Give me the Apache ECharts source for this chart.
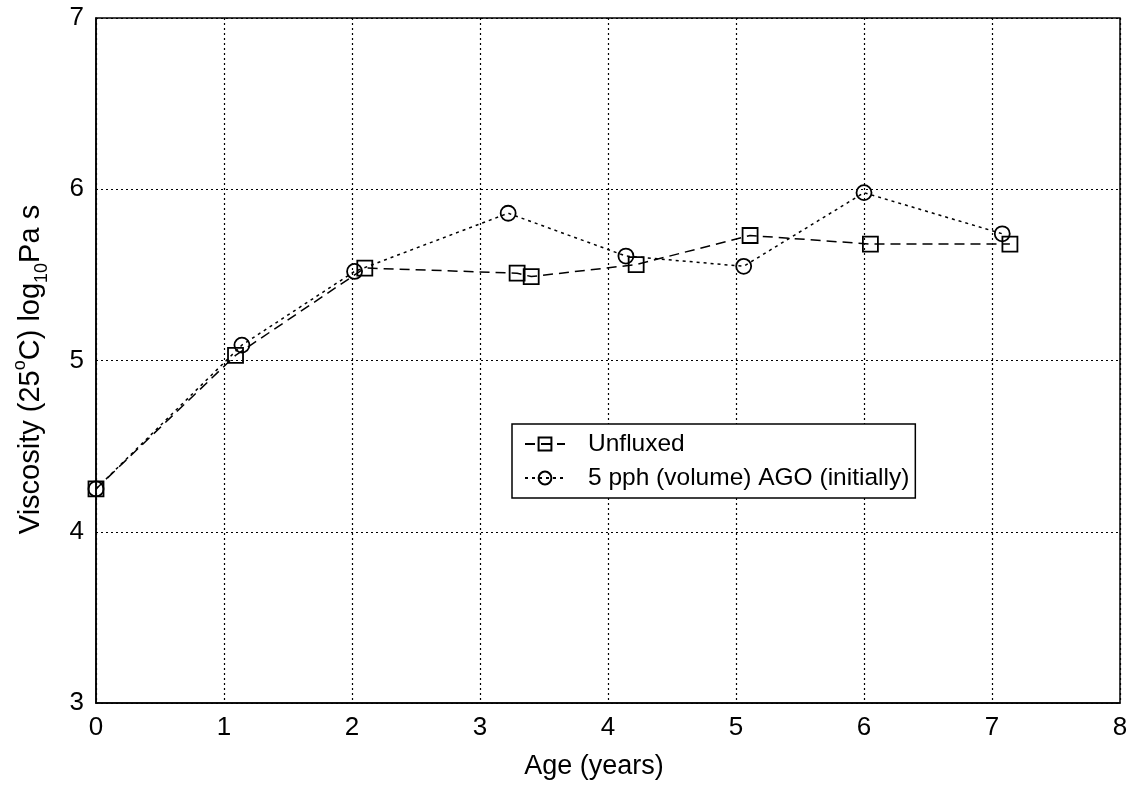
<!DOCTYPE html>
<html>
<head>
<meta charset="utf-8">
<script src="https://cdn.jsdelivr.net/npm/echarts@6/dist/echarts.min.js"></script>
<style>html,body{margin:0;padding:0;background:#fff}#c{width:1136px;height:794px}</style>
</head>
<body>
<div id="c"></div>
<script>
const xTicks = [0,1,2,3,4,5,6,7,8];
const yTicks = [3,4,5,6,7];
const unfluxedAge = [0, 1.09, 2.10, 3.29, 3.40, 4.22, 5.11, 6.05, 7.14];
const unfluxedVisc = [4.25, 5.03, 5.54, 5.51, 5.49, 5.56, 5.73, 5.68, 5.68];
const agoAge = [0, 1.14, 2.02, 3.22, 4.14, 5.06, 6.00, 7.08];
const agoVisc = [4.25, 5.09, 5.52, 5.86, 5.61, 5.55, 5.98, 5.74];
const seriesNames = ['Unfluxed', '5 pph (volume) AGO (initially)'];

const font = '"Liberation Sans", Arial, Helvetica, sans-serif';
const chart = echarts.init(document.getElementById('c'));
const pair = (xs, ys) => xs.map((x, i) => [x, ys[i]]);
chart.setOption({
  animation: false,
  backgroundColor: '#fff',
  grid: { left: 96, right: 16, top: 18, bottom: 91, show: true, borderColor: '#000', borderWidth: 1.5, backgroundColor: 'transparent' },
  xAxis: {
    type: 'value', min: xTicks[0], max: xTicks[xTicks.length-1], interval: 1,
    name: 'Age (years)', nameLocation: 'middle', nameGap: 50,
    nameTextStyle: { fontFamily: font, fontSize: 27, color: '#000', padding: [0, 28, 0, 0] },
    axisLine: { lineStyle: { color: '#000', width: 1.5 } },
    axisTick: { show: false },
    axisLabel: { fontFamily: font, fontSize: 26, color: '#000', margin: 12 },
    splitLine: { show: true, lineStyle: { color: '#000', type: [2, 3], width: 1.2 } }
  },
  yAxis: {
    type: 'value', min: yTicks[0], max: yTicks[yTicks.length-1], interval: 1,
    name: '{a|Viscosity (25}{sup|o}{a|C) log}{sub|10}{a|Pa s}', nameLocation: 'middle', nameGap: 45, nameRotate: 90,
    nameTextStyle: {
      fontFamily: font, fontSize: 29, color: '#000', padding: [0, 18, 0, 0],
      rich: {
        a: { fontFamily: font, fontSize: 29, color: '#000', lineHeight: 40, verticalAlign: 'middle' },
        sup: { fontFamily: font, fontSize: 18, color: '#000', verticalAlign: 'top', lineHeight: 40 },
        sub: { fontFamily: font, fontSize: 18, color: '#000', verticalAlign: 'bottom', lineHeight: 40 }
      }
    },
    axisLine: { show: true, lineStyle: { color: '#000', width: 1.5 } },
    axisTick: { show: false },
    axisLabel: { fontFamily: font, fontSize: 26, color: '#000', margin: 12 },
    splitLine: { show: true, lineStyle: { color: '#000', type: [2, 3], width: 1.2 } }
  },
  legend: {
    orient: 'vertical', left: 512, top: 424,
    backgroundColor: '#fff', borderColor: '#000', borderWidth: 1.5,
    padding: [6, 6, 6, 12], itemGap: 6, itemWidth: 40, itemHeight: 16,
    textStyle: { fontFamily: font, fontSize: 24.5, color: '#000', lineHeight: 28, padding: [0, 0, 0, 18] },
    data: seriesNames
  },
  series: [
    {
      name: seriesNames[0], type: 'line', data: pair(unfluxedAge, unfluxedVisc),
      symbol: 'rect', symbolSize: 15, showAllSymbol: true,
      lineStyle: { color: '#000', width: 1.5, type: [10, 6] },
      itemStyle: { color: 'rgba(255,255,255,0)', borderColor: '#000', borderWidth: 1.8 }
    },
    {
      name: seriesNames[1], type: 'line', data: pair(agoAge, agoVisc),
      symbol: 'circle', symbolSize: 15, showAllSymbol: true,
      lineStyle: { color: '#000', width: 1.5, type: [3, 4] },
      itemStyle: { color: 'rgba(255,255,255,0)', borderColor: '#000', borderWidth: 1.8 }
    }
  ]
});
</script>
</body>
</html>
